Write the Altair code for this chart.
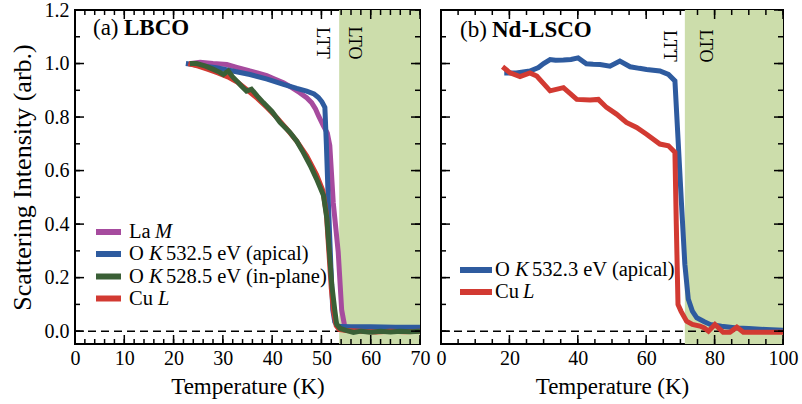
import altair as alt
import pandas as pd

# ---------------- data: panel (a) LBCO ----------------
lam_T = [23.5, 25.4, 28, 30.8, 33, 35.5, 37, 38.9, 40.5, 42.3, 44, 45.6, 47, 48, 48.8, 49.4, 50.4, 51.2, 51.7, 52.4, 53.4, 54.1, 54.7, 55.5, 58, 61, 64, 67, 70]
lam_I = [1.0, 1.005, 1.0, 0.996, 0.985, 0.972, 0.965, 0.955, 0.942, 0.928, 0.91, 0.891, 0.872, 0.854, 0.83, 0.805, 0.767, 0.74, 0.693, 0.48, 0.297, 0.08, 0.02, 0.008, 0.005, 0.006, 0.004, 0.005, 0.005]

oka_T = [22.5, 25, 28.7, 32, 35.5, 39, 42.3, 45, 47, 48.5, 49.4, 50.1, 50.7, 51.0, 51.4, 51.9, 52.3, 52.7, 53.2, 54, 56, 60, 65, 70]
oka_I = [1.0, 0.993, 0.984, 0.972, 0.959, 0.942, 0.922, 0.907, 0.897, 0.886, 0.873, 0.857, 0.836, 0.7, 0.483, 0.25, 0.08, 0.035, 0.02, 0.017, 0.016, 0.016, 0.015, 0.015]

oki_T = [23.3, 24.7, 26.5, 28.1, 29.3, 30.1, 31.1, 32.0, 32.8, 33.8, 34.8, 35.8, 37, 38.2, 40, 41.6, 43.6, 45, 46.3, 47.7, 49, 50.4, 51.1, 51.6, 52.1, 52.7, 53.1, 53.8, 55, 56.5, 58, 60, 62, 64, 66, 68, 70]
oki_I = [1.0, 1.0, 0.99, 0.978, 0.968, 0.959, 0.972, 0.95, 0.935, 0.915, 0.897, 0.904, 0.878, 0.854, 0.82, 0.78, 0.743, 0.71, 0.668, 0.62, 0.569, 0.508, 0.421, 0.3, 0.173, 0.08, 0.025, 0.01, 0.003, -0.005, 0.0, -0.004, 0.0, -0.003, 0.0, -0.002, 0.0]

cua_T = [23.0, 25, 27, 29, 31, 33, 35, 37, 39, 41, 43, 45, 47, 49, 50.3, 51.0, 51.5, 52.0, 52.5, 53.0, 53.6, 55, 58, 61, 64, 67, 70]
cua_I = [1.0, 0.99, 0.978, 0.965, 0.95, 0.93, 0.9, 0.87, 0.835, 0.797, 0.755, 0.71, 0.655, 0.585, 0.525, 0.44, 0.3, 0.16, 0.07, 0.02, 0.006, 0.002, 0.0, -0.003, 0.0, -0.002, 0.0]

# ---------------- data: panel (b) Nd-LSCO ----------------
okb_T = [18.5, 22, 26, 28.5, 30, 31.9, 33.5, 35.8, 38, 40.1, 42.5, 44.5, 46.5, 49.4, 52.3, 55.3, 58, 60.1, 64, 66.5, 68.4, 69.3, 70.3, 71.3, 72.3, 73.5, 74.8, 77, 78.7, 82, 86.5, 90, 95, 100]
okb_I = [0.965, 0.965, 0.972, 0.985, 1.0, 1.015, 1.012, 1.013, 1.015, 1.021, 0.999, 0.997, 0.996, 0.99, 1.009, 0.988, 0.982, 0.978, 0.972, 0.959, 0.935, 0.72, 0.48, 0.25, 0.12, 0.075, 0.05, 0.035, 0.025, 0.018, 0.012, 0.01, 0.006, 0.003]

cub_T = [18.0, 20.2, 23.1, 26, 28, 31.9, 35.8, 39.7, 43.6, 46, 48.4, 51.3, 54.2, 57.2, 60.1, 64, 66.5, 68.4, 68.8, 69.3, 70.2, 71.8, 73.5, 75.7, 77, 78.2, 80.1, 82.5, 84.5, 86.5, 88.4, 92, 96, 100]
cub_I = [0.988, 0.965, 0.951, 0.965, 0.953, 0.898, 0.91, 0.866, 0.864, 0.866, 0.836, 0.811, 0.78, 0.761, 0.736, 0.699, 0.693, 0.668, 0.4, 0.1, 0.074, 0.037, 0.025, 0.019, 0.012, 0.0, 0.025, -0.004, -0.004, 0.015, -0.004, -0.004, -0.004, -0.004]

# structural phase boundaries (LTT -> LTO)
lto_a = [53.6, 70]
lto_b = [71.3, 100]

# axis ticks
xa_major = [0, 10, 20, 30, 40, 50, 60, 70]
xa_minor = [0, 2, 4, 6, 8, 10, 12, 14, 16, 18, 20, 22, 24, 26, 28, 30, 32, 34, 36, 38, 40, 42, 44, 46, 48, 50, 52, 54, 56, 58, 60, 62, 64, 66, 68, 70]
xb_major = [0, 20, 40, 60, 80, 100]
xb_minor = [0, 5, 10, 15, 20, 25, 30, 35, 40, 45, 50, 55, 60, 65, 70, 75, 80, 85, 90, 95, 100]
y_major = [0.0, 0.2, 0.4, 0.6, 0.8, 1.0, 1.2]
y_minor = [0.0, 0.1, 0.2, 0.3, 0.4, 0.5, 0.6, 0.7, 0.8, 0.9, 1.0, 1.1, 1.2]

C_PURPLE = "#A64B9E"
C_BLUE = "#2E5B9F"
C_GREEN = "#3A5F36"
C_RED = "#D23A32"
C_SHADE = "#CCDDAB"
FONT = "Liberation Serif, Times New Roman, serif"

W1, W2, H = 345, 342, 334
YDOM = [-0.048, 1.2]
ONE = pd.DataFrame({"a": [0]})
LEG = 20.5


def sdf(T, I):
    return pd.DataFrame({"T": T, "I": I, "o": list(range(len(T)))})


def txt(x, y, s, size=LEG, **kw):
    return alt.Chart(ONE).mark_text(text=s, font=FONT, fontSize=size, color="black", **kw).encode(
        x=alt.value(x), y=alt.value(y))


def panel(W, xdom, xmaj, xmin, series, lto, show_y, texts):
    xs = alt.Scale(domain=xdom, nice=False, zero=False)
    ys = alt.Scale(domain=YDOM, nice=False, zero=False)
    xax = alt.Axis(values=xmaj, title="Temperature (K)", ticks=False, domain=False, grid=False,
                   labelFont=FONT, labelFontSize=20, labelColor="black", labelPadding=4,
                   titleFont=FONT, titleFontSize=23, titleFontWeight="normal", titleColor="black",
                   titlePadding=7, labelFlush=False, labelOverlap=False)
    if show_y:
        yax = alt.Axis(values=y_major, format=".1f", title="Scattering Intensity (arb.)", ticks=False,
                       domain=False, grid=False, labelFont=FONT, labelFontSize=20, labelColor="black",
                       labelPadding=6, titleFont=FONT, titleFontSize=26, titleFontWeight="normal",
                       titleColor="black", titlePadding=9, labelOverlap=False)
    else:
        yax = None
    X = lambda f: alt.X(f, scale=xs, axis=xax)
    Y = lambda f: alt.Y(f, scale=ys, axis=yax)

    layers = []
    shade = alt.Chart(pd.DataFrame({"T": [lto[0]], "T2": [lto[1]]})).mark_rect(color=C_SHADE).encode(
        x=X("T:Q"), x2="T2:Q", y=alt.value(0), y2=alt.value(H))
    layers.append(shade)
    zero = alt.Chart(pd.DataFrame({"I": [0.0]})).mark_rule(color="black", strokeWidth=1.5, strokeDash=[8, 5]).encode(
        y=Y("I:Q"), x=alt.value(0), x2=alt.value(W))
    layers.append(zero)
    for (T, I, col) in series:
        layers.append(alt.Chart(sdf(T, I)).mark_line(color=col, strokeWidth=5, clip=True).encode(
            x=X("T:Q"), y=Y("I:Q"), order="o:Q"))
    # ticks (inward, all four sides)
    for vals, ln in ((xmaj, 9), (xmin, 5)):
        d = pd.DataFrame({"T": vals})
        layers.append(alt.Chart(d).mark_rule(color="black", strokeWidth=1.5).encode(
            x=X("T:Q"), y=alt.value(H), y2=alt.value(H - ln)))
        layers.append(alt.Chart(d).mark_rule(color="black", strokeWidth=1.5).encode(
            x=X("T:Q"), y=alt.value(0), y2=alt.value(ln)))
    for vals, ln in ((y_major, 9), (y_minor, 5)):
        d = pd.DataFrame({"I": vals})
        layers.append(alt.Chart(d).mark_rule(color="black", strokeWidth=1.5).encode(
            y=Y("I:Q"), x=alt.value(0), x2=alt.value(ln)))
        layers.append(alt.Chart(d).mark_rule(color="black", strokeWidth=1.5).encode(
            y=Y("I:Q"), x=alt.value(W), x2=alt.value(W - ln)))
    layers += texts
    return alt.layer(*layers).properties(width=W, height=H)


def swatch(x1, x2, y, col):
    return alt.Chart(ONE).mark_rule(color=col, strokeWidth=6).encode(
        x=alt.value(x1), x2=alt.value(x2), y=alt.value(y))


ra = [222, 244, 266.5, 288.5]
texts_a = [
    txt(18, 25, "(a)", size=23, align="left", baseline="alphabetic"),
    txt(49, 25, "LBCO", size=23, align="left", baseline="alphabetic", fontWeight="bold"),
    txt(247, 33, "LTT", size=18, angle=90, align="center", baseline="middle"),
    txt(279, 33, "LTO", size=18, angle=90, align="center", baseline="middle"),
    swatch(21, 46, ra[0], C_PURPLE),
    swatch(21, 46, ra[1], C_BLUE),
    swatch(21, 46, ra[2], C_GREEN),
    swatch(21, 46, ra[3], C_RED),
    txt(54, ra[0], "La", align="left", baseline="middle"),
    txt(80, ra[0], "M", align="left", baseline="middle", fontStyle="italic"),
    txt(54, ra[1], "O", align="left", baseline="middle"),
    txt(74, ra[1], "K", align="left", baseline="middle", fontStyle="italic"),
    txt(91, ra[1], "532.5 eV (apical)", align="left", baseline="middle"),
    txt(54, ra[2], "O", align="left", baseline="middle"),
    txt(74, ra[2], "K", align="left", baseline="middle", fontStyle="italic"),
    txt(91, ra[2], "528.5 eV (in-plane)", align="left", baseline="middle"),
    txt(54, ra[3], "Cu", align="left", baseline="middle"),
    txt(83, ra[3], "L", align="left", baseline="middle", fontStyle="italic"),
]

rb = [260, 282]
texts_b = [
    txt(19, 27, "(b)", size=23, align="left", baseline="alphabetic"),
    txt(51, 27, "Nd-LSCO", size=23, align="left", baseline="alphabetic", fontWeight="bold"),
    txt(228, 36, "LTT", size=18, angle=90, align="center", baseline="middle"),
    txt(264, 36, "LTO", size=18, angle=90, align="center", baseline="middle"),
    swatch(19, 51, rb[0], C_BLUE),
    swatch(19, 51, rb[1], C_RED),
    txt(54, rb[0], "O", align="left", baseline="middle"),
    txt(74, rb[0], "K", align="left", baseline="middle", fontStyle="italic"),
    txt(91, rb[0], "532.3 eV (apical)", align="left", baseline="middle"),
    txt(54, rb[1], "Cu", align="left", baseline="middle"),
    txt(82, rb[1], "L", align="left", baseline="middle", fontStyle="italic"),
]

pa = panel(W1, [0, 70], xa_major, xa_minor,
           [(lam_T, lam_I, C_PURPLE), (oka_T, oka_I, C_BLUE), (cua_T, cua_I, C_RED), (oki_T, oki_I, C_GREEN)],
           lto_a, True, texts_a)
pb = panel(W2, [0, 100], xb_major, xb_minor,
           [(okb_T, okb_I, C_BLUE), (cub_T, cub_I, C_RED)],
           lto_b, False, texts_b)

chart = alt.hconcat(pa, pb, spacing=21, bounds="flush").properties(
    autosize=alt.AutoSizeParams(type="pad"),
    padding={"left": 8, "top": -1, "right": 0, "bottom": 0},
    background="white",
).configure_view(stroke="black", strokeWidth=2)

chart.save("out.html", embed_options={"renderer": "svg", "actions": False})
